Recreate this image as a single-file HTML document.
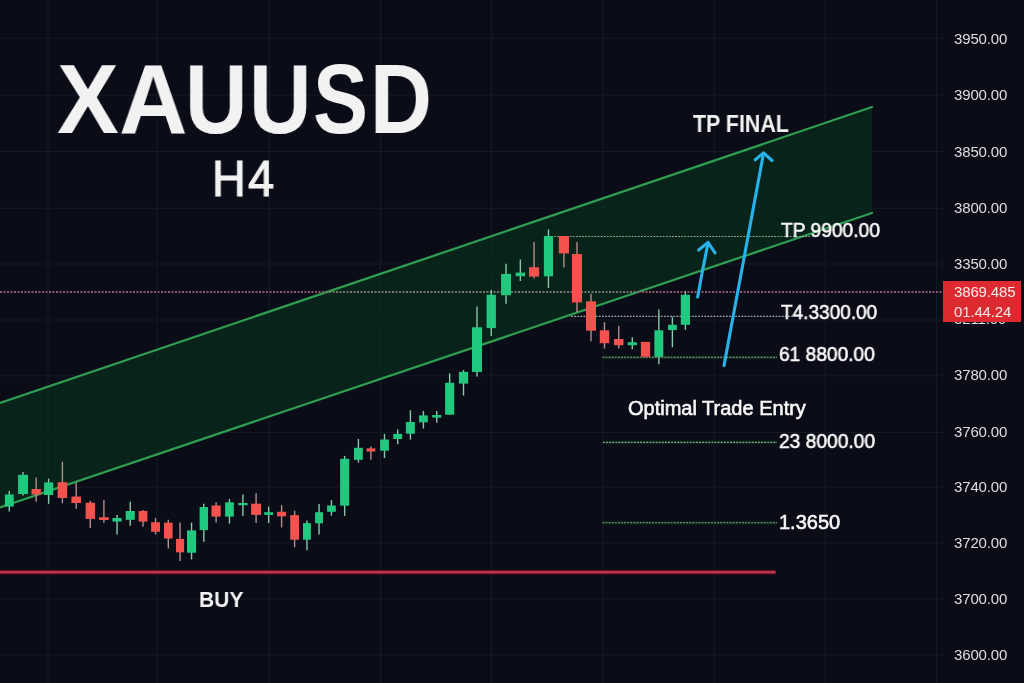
<!DOCTYPE html>
<html><head><meta charset="utf-8"><title>XAUUSD H4</title>
<style>
html,body{margin:0;padding:0;background:#0a0d18;}
#wrap{position:relative;width:1024px;height:683px;overflow:hidden;background:#0a0d18;font-family:"Liberation Sans",sans-serif;}
#wrap svg{position:absolute;left:0;top:0;}
.t{position:absolute;white-space:nowrap;color:#f2f2f2;line-height:1;transform-origin:0 0;will-change:transform;}
#title span{will-change:transform;}
.m{font-size:20px;color:#f8f8f8;-webkit-text-stroke:0.6px #f8f8f8;}
.ax{position:absolute;will-change:transform;left:954px;font-size:15px;color:#dedede;line-height:1;letter-spacing:-0.15px;}
#tag{position:absolute;left:943px;top:281px;width:78px;height:41px;background:#dc2a30;}
.tg{position:absolute;will-change:transform;left:954px;font-size:15px;color:#ffe9e9;line-height:1;letter-spacing:-0.15px;}
</style></head><body><div id="wrap">
<svg width="1024" height="683" viewBox="0 0 1024 683"><g stroke="#151a27" stroke-width="1"><line x1="48" y1="0" x2="48" y2="683"/><line x1="157" y1="0" x2="157" y2="683"/><line x1="269.5" y1="0" x2="269.5" y2="683"/><line x1="380.5" y1="0" x2="380.5" y2="683"/><line x1="491.5" y1="0" x2="491.5" y2="683"/><line x1="603" y1="0" x2="603" y2="683"/><line x1="714.3" y1="0" x2="714.3" y2="683"/><line x1="825" y1="0" x2="825" y2="683"/><line x1="936.5" y1="0" x2="936.5" y2="683"/><line x1="0" y1="38.3" x2="944" y2="38.3"/><line x1="0" y1="95.2" x2="944" y2="95.2"/><line x1="0" y1="151.5" x2="944" y2="151.5"/><line x1="0" y1="208.3" x2="944" y2="208.3"/><line x1="0" y1="264" x2="944" y2="264"/><line x1="0" y1="320" x2="944" y2="320"/><line x1="0" y1="375.9" x2="944" y2="375.9"/><line x1="0" y1="432.4" x2="944" y2="432.4"/><line x1="0" y1="487.2" x2="944" y2="487.2"/><line x1="0" y1="543.1" x2="944" y2="543.1"/><line x1="0" y1="599" x2="944" y2="599"/><line x1="0" y1="655" x2="944" y2="655"/></g><polygon points="0,403 872,107 872,213 0,507.4" fill="#092d1b" fill-opacity="0.72"/><g stroke="#2f9d50" stroke-width="2.3" stroke-linecap="round"><line x1="0" y1="403" x2="872" y2="107"/><line x1="0" y1="507.4" x2="872" y2="213"/></g><g stroke-width="2" stroke-dasharray="2 1.5"><line x1="0" y1="292" x2="325" y2="292" stroke="#8a5668"/><line x1="325.5" y1="292" x2="638" y2="292" stroke="#75776f"/><line x1="638.5" y1="292" x2="944" y2="292" stroke="#8a5668"/></g><line x1="548" y1="236.5" x2="810" y2="236.5" stroke="#a5c8ae" stroke-width="1.1" stroke-dasharray="1.8 1.3" stroke-opacity="0.85"/><line x1="571" y1="316.4" x2="794" y2="316.4" stroke="#b8c8b8" stroke-width="1.1" stroke-dasharray="1.8 1.3" stroke-opacity="0.85"/><line x1="602.5" y1="357.3" x2="777" y2="357.3" stroke="#0b2616" stroke-width="3.2"/><line x1="602.5" y1="357.3" x2="777" y2="357.3" stroke="#acc8ae" stroke-width="1.1" stroke-dasharray="1.8 1.3" stroke-opacity="0.85"/><line x1="603" y1="442.4" x2="777" y2="442.4" stroke="#0b2616" stroke-width="3.2"/><line x1="603" y1="442.4" x2="777" y2="442.4" stroke="#a2c4a6" stroke-width="1.1" stroke-dasharray="1.8 1.3" stroke-opacity="0.85"/><line x1="602.5" y1="522.8" x2="777" y2="522.8" stroke="#0b2616" stroke-width="3.2"/><line x1="602.5" y1="522.8" x2="777" y2="522.8" stroke="#a2c4a6" stroke-width="1.1" stroke-dasharray="1.8 1.3" stroke-opacity="0.85"/><line x1="9.3" y1="491" x2="9.3" y2="511.5" stroke="#86c9a6" stroke-width="1.4"/><rect x="4.9" y="494.5" width="8.8" height="12.1" fill="#21c97f"/><line x1="23.05" y1="472" x2="23.05" y2="495.6" stroke="#86c9a6" stroke-width="1.4"/><rect x="18.1" y="474.8" width="9.9" height="19.2" fill="#21c97f"/><line x1="36.15" y1="477.5" x2="36.15" y2="501.7" stroke="#b48c8a" stroke-width="1.4"/><rect x="31.5" y="489" width="9.3" height="5.5" fill="#f3524e"/><line x1="48.65" y1="478.6" x2="48.65" y2="503.8" stroke="#86c9a6" stroke-width="1.4"/><rect x="44.1" y="482.4" width="9.1" height="12.6" fill="#21c97f"/><line x1="62.4" y1="461.6" x2="62.4" y2="503.3" stroke="#b48c8a" stroke-width="1.4"/><rect x="57.6" y="482.2" width="9.6" height="15.8" fill="#f3524e"/><line x1="76.2" y1="482.4" x2="76.2" y2="508.8" stroke="#b48c8a" stroke-width="1.4"/><rect x="71.4" y="496.5" width="9.6" height="6.5" fill="#f3524e"/><line x1="90.3" y1="501" x2="90.3" y2="528" stroke="#b48c8a" stroke-width="1.4"/><rect x="85.6" y="502.7" width="9.4" height="16.2" fill="#f3524e"/><line x1="103.9" y1="500.1" x2="103.9" y2="522.7" stroke="#b48c8a" stroke-width="1.4"/><rect x="99.1" y="517.2" width="9.6" height="2.8" fill="#f3524e"/><line x1="117.05" y1="514.9" x2="117.05" y2="534.4" stroke="#86c9a6" stroke-width="1.4"/><rect x="112.5" y="518" width="9.1" height="3.6" fill="#21c97f"/><line x1="130.25" y1="501.7" x2="130.25" y2="525.7" stroke="#86c9a6" stroke-width="1.4"/><rect x="125.7" y="511" width="9.1" height="8.8" fill="#21c97f"/><line x1="143" y1="509.9" x2="143" y2="526.8" stroke="#b48c8a" stroke-width="1.4"/><rect x="138.6" y="511" width="8.8" height="10.6" fill="#f3524e"/><line x1="155.55" y1="518" x2="155.55" y2="534.4" stroke="#b48c8a" stroke-width="1.4"/><rect x="151.1" y="522.2" width="8.9" height="9.6" fill="#f3524e"/><line x1="168.3" y1="519.8" x2="168.3" y2="548.5" stroke="#b48c8a" stroke-width="1.4"/><rect x="164" y="522.7" width="8.6" height="15.8" fill="#f3524e"/><line x1="180.05" y1="522.5" x2="180.05" y2="561.1" stroke="#b48c8a" stroke-width="1.4"/><rect x="176" y="538.9" width="8.1" height="13.4" fill="#f3524e"/><line x1="191.55" y1="522.5" x2="191.55" y2="559.4" stroke="#86c9a6" stroke-width="1.4"/><rect x="187" y="530.4" width="9.1" height="22.3" fill="#21c97f"/><line x1="203.8" y1="503.7" x2="203.8" y2="541.8" stroke="#86c9a6" stroke-width="1.4"/><rect x="199.6" y="507" width="8.4" height="23.1" fill="#21c97f"/><line x1="216.1" y1="502.3" x2="216.1" y2="522.5" stroke="#b48c8a" stroke-width="1.4"/><rect x="211.5" y="505.5" width="9.2" height="11.1" fill="#f3524e"/><line x1="229.45" y1="499" x2="229.45" y2="523.6" stroke="#86c9a6" stroke-width="1.4"/><rect x="225.1" y="502.3" width="8.7" height="14.3" fill="#21c97f"/><line x1="242.9" y1="494.4" x2="242.9" y2="516" stroke="#86c9a6" stroke-width="1.4"/><rect x="238.2" y="503" width="9.4" height="2.2" fill="#21c97f"/><line x1="256.1" y1="493.2" x2="256.1" y2="523" stroke="#b48c8a" stroke-width="1.4"/><rect x="251.1" y="503.7" width="10" height="11.2" fill="#f3524e"/><line x1="268.65" y1="506.5" x2="268.65" y2="523" stroke="#86c9a6" stroke-width="1.4"/><rect x="264.2" y="512.2" width="8.9" height="2.7" fill="#21c97f"/><line x1="281.6" y1="505.2" x2="281.6" y2="527.4" stroke="#b48c8a" stroke-width="1.4"/><rect x="277.1" y="511.8" width="9" height="4.5" fill="#f3524e"/><line x1="294.6" y1="510.7" x2="294.6" y2="547.3" stroke="#b48c8a" stroke-width="1.4"/><rect x="290.2" y="515.1" width="8.8" height="24.6" fill="#f3524e"/><line x1="306.95" y1="520.4" x2="306.95" y2="550.3" stroke="#86c9a6" stroke-width="1.4"/><rect x="303" y="523.1" width="7.9" height="16.6" fill="#21c97f"/><line x1="319.05" y1="504" x2="319.05" y2="534.4" stroke="#86c9a6" stroke-width="1.4"/><rect x="315.1" y="512.2" width="7.9" height="11.1" fill="#21c97f"/><line x1="331.45" y1="500.1" x2="331.45" y2="515.7" stroke="#86c9a6" stroke-width="1.4"/><rect x="327.1" y="505.5" width="8.7" height="6.3" fill="#21c97f"/><line x1="344.65" y1="455.9" x2="344.65" y2="515.9" stroke="#86c9a6" stroke-width="1.4"/><rect x="340.1" y="458.8" width="9.1" height="46.9" fill="#21c97f"/><line x1="358.4" y1="439" x2="358.4" y2="462.5" stroke="#86c9a6" stroke-width="1.4"/><rect x="354" y="447.8" width="8.8" height="12" fill="#21c97f"/><line x1="370.9" y1="446.4" x2="370.9" y2="459.8" stroke="#b48c8a" stroke-width="1.4"/><rect x="366.5" y="448.3" width="8.8" height="3.2" fill="#f3524e"/><line x1="384.5" y1="433.9" x2="384.5" y2="458" stroke="#86c9a6" stroke-width="1.4"/><rect x="380.1" y="439.5" width="8.8" height="11.2" fill="#21c97f"/><line x1="397.7" y1="429.5" x2="397.7" y2="444.2" stroke="#86c9a6" stroke-width="1.4"/><rect x="393.3" y="433.9" width="8.8" height="5.1" fill="#21c97f"/><line x1="410.4" y1="410.3" x2="410.4" y2="439.6" stroke="#86c9a6" stroke-width="1.4"/><rect x="405.9" y="422" width="9" height="11.7" fill="#21c97f"/><line x1="423.4" y1="411" x2="423.4" y2="428.6" stroke="#86c9a6" stroke-width="1.4"/><rect x="419" y="415.4" width="8.8" height="6.9" fill="#21c97f"/><line x1="436.75" y1="411" x2="436.75" y2="422.7" stroke="#86c9a6" stroke-width="1.4"/><rect x="432.2" y="415" width="9.1" height="2.6" fill="#21c97f"/><line x1="449.65" y1="373.4" x2="449.65" y2="414.7" stroke="#86c9a6" stroke-width="1.4"/><rect x="445.1" y="382.8" width="9.1" height="31.9" fill="#21c97f"/><line x1="463.5" y1="370" x2="463.5" y2="395.6" stroke="#86c9a6" stroke-width="1.4"/><rect x="458.9" y="371.9" width="9.2" height="11.7" fill="#21c97f"/><line x1="477" y1="306.6" x2="477" y2="376.6" stroke="#86c9a6" stroke-width="1.4"/><rect x="472" y="327.3" width="10" height="44.6" fill="#21c97f"/><line x1="491.25" y1="290" x2="491.25" y2="336.1" stroke="#86c9a6" stroke-width="1.4"/><rect x="486.6" y="294.8" width="9.3" height="33.3" fill="#21c97f"/><line x1="506.05" y1="263.8" x2="506.05" y2="303.7" stroke="#86c9a6" stroke-width="1.4"/><rect x="501.1" y="273.9" width="9.9" height="21.3" fill="#21c97f"/><line x1="520.35" y1="259.5" x2="520.35" y2="281" stroke="#86c9a6" stroke-width="1.4"/><rect x="515.7" y="272.6" width="9.3" height="3.6" fill="#21c97f"/><line x1="534.05" y1="242" x2="534.05" y2="278.5" stroke="#b48c8a" stroke-width="1.4"/><rect x="529" y="267.2" width="10.1" height="9.4" fill="#f3524e"/><line x1="548.45" y1="229.4" x2="548.45" y2="288" stroke="#86c9a6" stroke-width="1.4"/><rect x="543.9" y="236" width="9.1" height="40.3" fill="#21c97f"/><line x1="563.9" y1="236" x2="563.9" y2="267.6" stroke="#b48c8a" stroke-width="1.4"/><rect x="558.8" y="236" width="10.2" height="17.4" fill="#f3524e"/><line x1="577" y1="242" x2="577" y2="312" stroke="#b48c8a" stroke-width="1.4"/><rect x="572" y="254" width="10" height="48.4" fill="#f3524e"/><line x1="591" y1="293.8" x2="591" y2="341.3" stroke="#b48c8a" stroke-width="1.4"/><rect x="586" y="301.3" width="10" height="29.4" fill="#f3524e"/><line x1="604.5" y1="322.2" x2="604.5" y2="348.5" stroke="#b48c8a" stroke-width="1.4"/><rect x="599.8" y="330.3" width="9.4" height="12.9" fill="#f3524e"/><line x1="618.75" y1="326.1" x2="618.75" y2="348.5" stroke="#b48c8a" stroke-width="1.4"/><rect x="614" y="339" width="9.5" height="6.2" fill="#f3524e"/><line x1="632.3" y1="337.3" x2="632.3" y2="349.2" stroke="#86c9a6" stroke-width="1.4"/><rect x="627.7" y="342.2" width="9.2" height="3" fill="#21c97f"/><line x1="645.5" y1="341.9" x2="645.5" y2="356.8" stroke="#b48c8a" stroke-width="1.4"/><rect x="640.9" y="341.9" width="9.2" height="14.9" fill="#f3524e"/><line x1="658.85" y1="309.6" x2="658.85" y2="364.3" stroke="#86c9a6" stroke-width="1.4"/><rect x="654.4" y="330.3" width="8.9" height="26.5" fill="#21c97f"/><line x1="672.4" y1="316.9" x2="672.4" y2="347.2" stroke="#86c9a6" stroke-width="1.4"/><rect x="668" y="324.8" width="8.8" height="5.3" fill="#21c97f"/><line x1="685.4" y1="291.2" x2="685.4" y2="329.8" stroke="#86c9a6" stroke-width="1.4"/><rect x="680.8" y="294.8" width="9.2" height="30" fill="#21c97f"/><line x1="0" y1="572.2" x2="776" y2="572.2" stroke="#4a0614" stroke-width="5"/><line x1="0" y1="572.2" x2="775.5" y2="572.2" stroke="#b8354a" stroke-width="2.8"/><g fill="none" stroke="#27b2ea" stroke-width="3.1" stroke-linecap="round" stroke-linejoin="round"><path d="M724 365.6 L763.5 153.4"/><path d="M755.2 159.8 L763.6 152.9 L772 160.5"/><path d="M697.7 297 Q702.6 269 708.1 243"/><path d="M698.6 250 L708.1 242.5 L715 252.9"/></g></svg>
<div id="title" style="position:absolute;left:0;top:49.6px;font-size:98.8px;font-weight:700;color:#f2f2f2;line-height:1;"><span style="position:absolute;left:57.04px;top:0;transform:scaleX(0.9366);transform-origin:0 0;">X</span><span style="position:absolute;left:119.06px;top:0;transform:scaleX(0.9592);transform-origin:0 0;">A</span><span style="position:absolute;left:185.06px;top:0;transform:scaleX(0.8748);transform-origin:0 0;">U</span><span style="position:absolute;left:248.76px;top:0;transform:scaleX(0.8748);transform-origin:0 0;">U</span><span style="position:absolute;left:313.15px;top:0;transform:scaleX(0.8345);transform-origin:0 0;">S</span><span style="position:absolute;left:369.9px;top:0;transform:scaleX(0.8689);transform-origin:0 0;">D</span></div>
<div class="t" id="h4" style="left:211.9px;top:154.2px;font-size:49.2px;letter-spacing:2.6px;-webkit-text-stroke:1.2px #f2f2f2;transform:scaleX(0.95);">H4</div>
<div class="t" id="tpf" style="left:692.7px;top:113.2px;font-size:23px;font-weight:700;transform:scaleX(0.93);">TP FINAL</div>
<div class="t m" id="tp99" style="left:780.8px;top:219.6px;transform:scaleX(0.96);">TP 9900.00</div>
<div class="t m" id="t43" style="left:781.1px;top:302px;transform:scaleX(0.95);">T4.3300.00</div>
<div class="t m" id="l61" style="left:779px;top:343.7px;transform:scaleX(0.957);">61 8800.00</div>
<div class="t m" id="ote" style="left:627.8px;top:397.9px;">Optimal Trade Entry</div>
<div class="t m" id="l23" style="left:779.2px;top:431.4px;transform:scaleX(0.96);">23 8000.00</div>
<div class="t m" id="l13" style="left:779.2px;top:511.9px;">1.3650</div>
<div class="t" id="buy" style="left:199.2px;top:588.6px;font-size:22.6px;font-weight:700;transform:scaleX(0.93);">BUY</div>
<div class="ax" style="top:30.5px">3950.00</div>
<div class="ax" style="top:87px">3900.00</div>
<div class="ax" style="top:143.5px">3850.00</div>
<div class="ax" style="top:199.9px">3800.00</div>
<div class="ax" style="top:256px">3350.00</div>
<div class="ax" style="top:310.9px">3211.00</div>
<div class="ax" style="top:367.4px">3780.00</div>
<div class="ax" style="top:424.1px">3760.00</div>
<div class="ax" style="top:479.4px">3740.00</div>
<div class="ax" style="top:535.4px">3720.00</div>
<div class="ax" style="top:590.6px">3700.00</div>
<div class="ax" style="top:646.7px">3600.00</div>
<div id="tag"></div>
<div class="tg" style="top:284.3px">3869.485</div>
<div class="tg" style="top:303.7px">01.44.24</div>
</div></body></html>
